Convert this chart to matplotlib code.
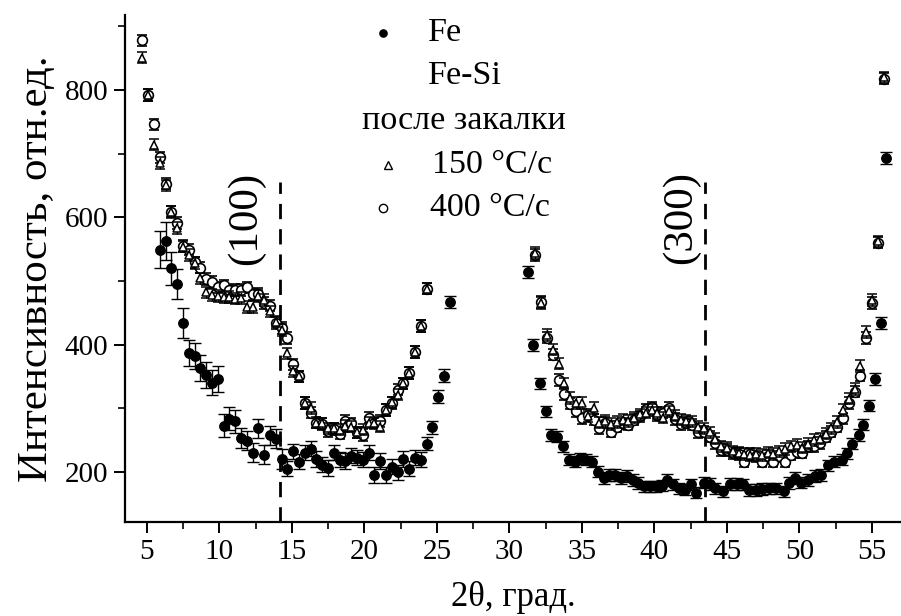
import matplotlib
matplotlib.use("Agg")
import matplotlib.pyplot as plt
from matplotlib.lines import Line2D
from matplotlib.ticker import MultipleLocator

# ---------------- data ----------------
# Fe, low-angle segment
fe1_x = [5.9, 6.3, 6.7, 7.1, 7.5, 7.9, 8.3, 8.7, 9.1, 9.5, 9.9, 10.3, 10.7, 11.1,
         11.5, 11.9, 12.3, 12.7, 13.1, 13.5, 13.9, 14.3, 14.7, 15.1, 15.5, 15.9,
         16.3, 16.7, 17.1, 17.5, 17.9, 18.3, 18.7, 19.1, 19.5, 19.9, 20.3, 20.7,
         21.1, 21.5, 21.9, 22.3, 22.7, 23.1, 23.5, 23.9, 24.3, 24.7, 25.1, 25.5, 25.9]
fe1_y = [549, 563, 520, 495, 434, 387, 382, 363, 352, 340, 346, 272, 283, 279,
         253, 249, 230, 268, 227, 257, 252, 220, 205, 232, 216, 230,
         236, 220, 211, 206, 230, 219, 217, 225, 222, 219, 230, 195,
         217, 195, 208, 199, 220, 205, 222, 219, 244, 270, 318, 351, 467]
fe1_err = [29, 30, 26, 24, 24, 20, 20, 20, 20, 20, 20, 18, 18, 18,
           15, 15, 15, 15, 15, 15, 15, 15, 12, 12, 12, 12,
           12, 12, 12, 12, 12, 12, 12, 12, 12, 12, 12, 12,
           12, 12, 12, 12, 12, 12, 12, 12, 10, 10, 10, 10, 10]

# Fe, high-angle segment
fe2_x = [31.3, 31.6, 32.1, 32.5, 32.9, 33.3, 33.7, 34.1, 34.5, 34.9, 35.3, 35.7,
         36.1, 36.5, 36.9, 37.3, 37.7, 38.1, 38.5, 38.9, 39.3, 39.7, 40.1, 40.5,
         40.9, 41.3, 41.7, 42.1, 42.5, 42.9, 43.4, 43.8, 44.2, 44.7, 45.2, 45.7,
         46.1, 46.5, 47.0, 47.4, 47.9, 48.4, 48.9, 49.3, 49.7, 50.1, 50.6, 51.1,
         51.5, 52.0, 52.4, 52.9, 53.3, 53.6, 54.1, 54.4, 54.8, 55.2, 55.6, 56.0]
fe2_y = [514, 399, 339, 295, 258, 255, 240, 219, 216, 221, 219, 216,
         200, 190, 195, 195, 190, 193, 187, 182, 177, 177, 177, 178,
         187, 180, 174, 172, 180, 167, 183, 181, 174, 169, 181, 181,
         180, 171, 171, 173, 174, 174, 169, 182, 190, 183, 187, 193,
         195, 210, 216, 219, 229, 244, 258, 274, 304, 346, 434, 693]
fe2_err = 9

# Fe-Si quenched, low-angle x grid
fesi1_x = [4.7, 5.1, 5.5, 5.9, 6.3, 6.7, 7.1, 7.5, 7.9, 8.3, 8.7, 9.1, 9.5, 9.9,
           10.3, 10.7, 11.1, 11.5, 11.9, 12.3, 12.7, 13.1, 13.5, 13.9, 14.3, 14.7,
           15.1, 15.5, 15.9, 16.3, 16.7, 17.1, 17.5, 17.9, 18.3, 18.7, 19.1, 19.5,
           19.9, 20.3, 20.7, 21.1, 21.5, 21.9, 22.3, 22.7, 23.1, 23.5, 23.9, 24.3]
q400_1_y = [878, 792, 746, 694, 653, 609, 591, 555, 549, 529, 521, 503, 498, 490,
            493, 485, 486, 486, 490, 479, 480, 465, 461, 434, 426, 410,
            369, 350, 308, 293, 277, 275, 264, 267, 260, 280, 276, 262,
            258, 285, 277, 280, 297, 308, 329, 339, 355, 388, 429, 488]
q150_1_y = [851, 792, 714, 685, 650, 608, 583, 554, 541, 528, 504, 482, 478, 476,
            474, 475, 472, 473, 459, 459, 476, 470, 452, 436, 423, 386,
            358, 350, 308, 300, 277, 276, 268, 268, 266, 272, 271, 262,
            266, 277, 276, 271, 297, 309, 321, 339, 355, 388, 429, 488]

# Fe-Si quenched, high-angle x grid
fesi2_x = [31.8, 32.2, 32.6, 33.0, 33.4, 33.8, 34.2, 34.6, 35.0, 35.4, 35.8, 36.2,
           36.6, 37.0, 37.4, 37.8, 38.2, 38.6, 39.0, 39.4, 39.8, 40.2, 40.6, 41.0,
           41.4, 41.8, 42.2, 42.6, 43.0, 43.4, 43.8, 44.2, 44.6, 45.0, 45.4, 45.8,
           46.2, 46.6, 47.0, 47.4, 47.8, 48.2, 48.6, 49.0, 49.4, 49.8, 50.2, 50.6,
           51.0, 51.4, 51.8, 52.2, 52.6, 53.0, 53.4, 53.8, 54.2, 54.6, 55.0, 55.4, 55.8]
q400_2_y = [541, 467, 411, 384, 344, 322, 307, 295, 284, 289, 282, 269,
            277, 263, 271, 276, 274, 282, 287, 298, 301, 289, 293, 300,
            283, 275, 277, 274, 262, 263, 255, 245, 234, 234, 229, 228,
            216, 228, 224, 216, 225, 216, 224, 216, 227, 231, 230, 240,
            240, 245, 255, 263, 271, 284, 308, 326, 351, 410, 465, 560, 818]
q150_2_y = [544, 465, 415, 392, 370, 339, 316, 308, 308, 287, 300, 277,
            280, 275, 278, 282, 280, 285, 290, 293, 297, 292, 285, 295,
            288, 282, 280, 279, 270, 268, 262, 252, 240, 238, 232, 230,
            228, 226, 228, 226, 230, 228, 232, 236, 240, 242, 238, 244,
            250, 252, 260, 268, 278, 297, 315, 330, 366, 420, 470, 562, 820]
q_err = 9

peaks = [14.2, 43.5]
peak_labels = ['(100)', '(300)']
peak_top = 655

x_ticks = [5, 10, 15, 20, 25, 30, 35, 40, 45, 50, 55]
y_ticks = [200, 400, 600, 800]

# ---------------- figure ----------------
plt.rcParams['font.family'] = ['Liberation Serif', 'DejaVu Serif']

W, H = 901, 616
fig = plt.figure(figsize=(W / 100, H / 100), dpi=100)
ax = fig.add_axes([125 / W, 1 - 522 / H, 1 - 125 / W, (522 - 15) / H])

XLIM = (3.5, 57.0)
YLIM = (121, 918)

eb_kw = dict(ecolor='black', elinewidth=1.0, capsize=3.5, capthick=1.0, linestyle='none')

# 400 C/c circles
for xs, ys in [(fesi1_x, q400_1_y), (fesi2_x, q400_2_y)]:
    ax.errorbar(xs, ys, yerr=q_err, marker='o', ms=7.0, mfc='white', mec='black',
                mew=1.2, zorder=3, **eb_kw)
# 150 C/c triangles
for xs, ys in [(fesi1_x, q150_1_y), (fesi2_x, q150_2_y)]:
    ax.errorbar(xs, ys, yerr=q_err, marker='^', ms=6.3, mfc='white', mec='black',
                mew=1.1, zorder=4, **eb_kw)
# Fe filled
ax.errorbar(fe1_x, fe1_y, yerr=fe1_err, marker='o', ms=6.8, mfc='black', mec='black',
            zorder=5, **dict(eb_kw, capsize=4.5))
ax.errorbar(fe2_x, fe2_y, yerr=fe2_err, marker='o', ms=6.8, mfc='black', mec='black',
            zorder=5, **dict(eb_kw, capsize=4.5))

# peak markers
ax.vlines(peaks, YLIM[0], peak_top, colors='black', linewidth=2.0,
          linestyles=(0, (5.5, 3.6)), zorder=2)
for xp, lab, px in zip(peaks, peak_labels, [246, 681]):
    fig.text(px / W, 1 - 218 / H, lab, rotation=90, ha='center', va='center',
             fontsize=31)

ax.set_xlim(*XLIM)
ax.set_ylim(*YLIM)
ax.set_xticks(x_ticks)
ax.set_yticks(y_ticks)
ax.xaxis.set_minor_locator(MultipleLocator(2.5))
ax.yaxis.set_minor_locator(MultipleLocator(100))
ax.tick_params(which='major', direction='out', length=8, width=1.4, labelsize=21, pad=4)
ax.tick_params(which='minor', direction='out', length=5, width=1.2)
for s in ['top', 'right']:
    ax.spines[s].set_visible(False)
for s in ['left', 'bottom']:
    ax.spines[s].set_linewidth(1.6)

ax.set_xlabel('2θ, град.', fontsize=25, labelpad=12)
ax.set_ylabel('Интенсивность, отн.ед.', fontsize=31, labelpad=6)

# legend (manual)
def fx(px):
    return px / W

def fy(py):
    return 1 - py / H

fig.add_artist(Line2D([fx(383)], [fy(33)], marker='o', ms=5.2, mfc='black', mec='black',
                      transform=fig.transFigure))
fig.add_artist(Line2D([fx(388)], [fy(165)], marker='^', ms=5.5, mfc='white', mec='black',
                      mew=1.0, transform=fig.transFigure))
fig.add_artist(Line2D([fx(383)], [fy(208)], marker='o', ms=6.0, mfc='white', mec='black',
                      mew=1.0, transform=fig.transFigure))
leg_fs = 24.5
fig.text(fx(428), fy(33), 'Fe', ha='left', va='center', fontsize=leg_fs)
fig.text(fx(428), fy(76), 'Fe-Si', ha='left', va='center', fontsize=leg_fs)
fig.text(fx(362), fy(121), 'после закалки', ha='left', va='center', fontsize=leg_fs)
fig.text(fx(432), fy(165), '150 °C/c', ha='left', va='center', fontsize=leg_fs)
fig.text(fx(430), fy(208), '400 °C/c', ha='left', va='center', fontsize=leg_fs)

fig.savefig('out.png', dpi=100, facecolor='white')
